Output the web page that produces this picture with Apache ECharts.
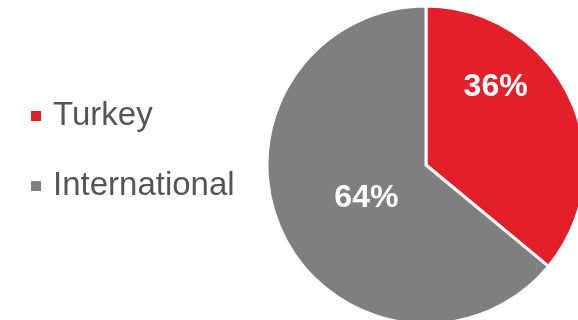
<!DOCTYPE html>
<html>
<head>
<meta charset="utf-8">
<script src="https://cdn.jsdelivr.net/npm/echarts@6/dist/echarts.min.js"></script>
<style>
  html, body { margin: 0; padding: 0; background: #ffffff; }
  #chart { width: 578px; height: 320px; }
</style>
</head>
<body>
<div id="chart"></div>
<script>
// Revenue split by market
const categories = ['Turkey', 'International'];
const shares = [36, 64];
const colors = ['#e31f2a', '#7f7f7f'];

// Nudge for each slice's percentage label
const labelShift = [
  { dx: -5, dy: -43 },
  { dx: 15, dy: -2 }
];

const chart = echarts.init(document.getElementById('chart'), null, { renderer: 'canvas' });

chart.setOption({
  animation: false,
  backgroundColor: '#ffffff',
  legend: {
    orient: 'vertical',
    left: 29,
    top: 96,
    padding: 0,
    itemWidth: 12,
    itemHeight: 12,
    itemGap: 30,
    icon: 'rect',
    data: categories,
    textStyle: {
      fontFamily: 'Liberation Sans, Arial, sans-serif',
      fontSize: 33,
      lineHeight: 40,
      color: '#555555',
      padding: [0, 0, 0, 6]
    }
  },
  series: [{
    type: 'pie',
    center: [426, 165],
    radius: 159,
    startAngle: 90,
    clockwise: true,
    data: categories.map((name, i) => ({
      name: name,
      value: shares[i],
      itemStyle: { color: colors[i] }
    })),
    itemStyle: { borderColor: '#ffffff', borderWidth: 3 },
    label: {
      show: true,
      position: 'inside',
      formatter: (p) => p.value + '%',
      color: '#ffffff',
      fontFamily: 'Liberation Sans, Arial, sans-serif',
      fontWeight: 'bold',
      fontSize: 32
    },
    labelLine: { show: false },
    labelLayout: (params) => labelShift[params.dataIndex],
    emphasis: { disabled: true }
  }]
});
</script>
</body>
</html>
